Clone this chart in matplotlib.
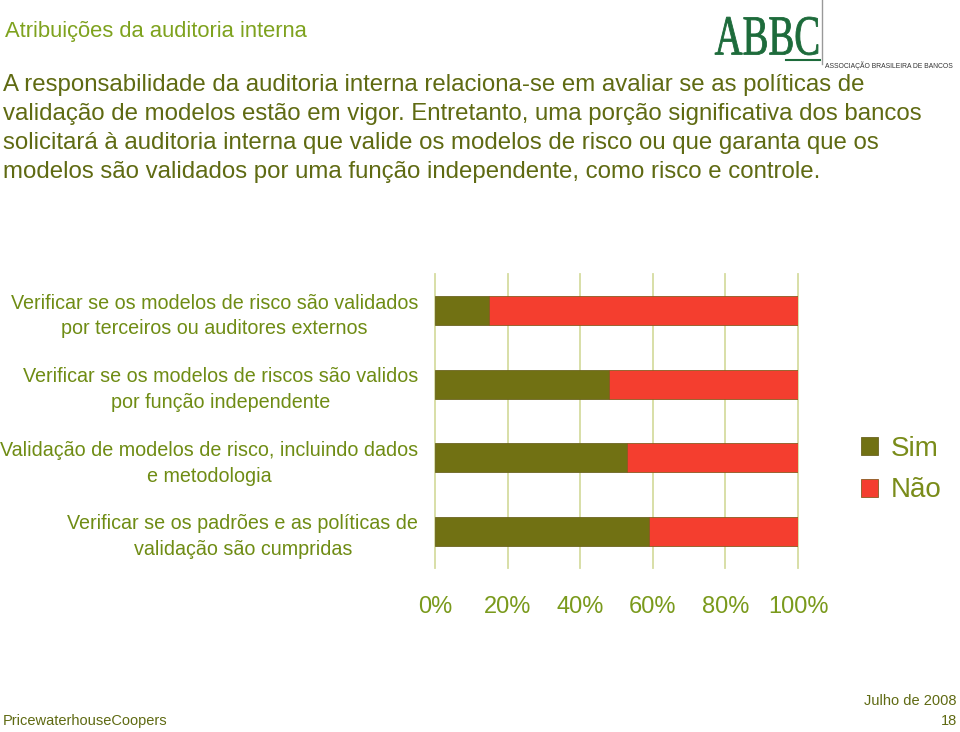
import numpy as np
import matplotlib.pyplot as plt
from matplotlib.textpath import TextPath
from matplotlib.patches import PathPatch
from matplotlib.font_manager import FontProperties
from matplotlib.transforms import Affine2D, IdentityTransform

plt.rcParams['font.family'] = ['Liberation Sans', 'DejaVu Sans']

categorias = [
    "Verificar se os modelos de risco são validados\npor terceiros ou auditores externos",
    "Verificar se os modelos de riscos são validos\npor função independente",
    "Validação de modelos de risco, incluindo dados\ne metodologia",
    "Verificar se os padrões e as políticas de\nvalidação são cumpridas",
]
sim = [15, 48, 53, 59]
nao = [85, 52, 47, 41]
ticks = [0, 20, 40, 60, 80, 100]
tick_labels = ["0%", "20%", "40%", "60%", "80%", "100%"]

cor_sim = "#717113"
cor_nao = "#f43e2f"
verde_titulo = "#7ea21e"
verde_texto = "#5f6a12"
verde_cat = "#6f8c14"

fig = plt.figure(figsize=(9.6, 7.32), dpi=100)

# titulo e texto
fig.text(5/960, 1 - 31/732, "Atribuições da auditoria interna", fontsize=15.8,
         color=verde_titulo, va='center', ha='left')
corpo = ("A responsabilidade da auditoria interna relaciona-se em avaliar se as políticas de\n"
         "validação de modelos estão em vigor. Entretanto, uma porção significativa dos bancos\n"
         "solicitará à auditoria interna que valide os modelos de risco ou que garanta que os\n"
         "modelos são validados por uma função independente, como risco e controle.")
fig.text(3/960, 1 - 74/732, corpo, fontsize=17.3, color=verde_texto, va='top', ha='left',
         linespacing=1.41)

# logo ABBC (texto condensado)
tp = TextPath((0, 0), "ABBC", size=1, prop=FontProperties(family='Liberation Serif'))
ext = tp.get_extents()
sx = 103 / ext.width
sy = 38 / ext.height
tr = Affine2D().translate(-ext.x0, -ext.y0).scale(sx, sy).translate(715, 732 - 55)
fig.add_artist(PathPatch(tr.transform_path(tp), transform=IdentityTransform(),
                         facecolor="#1d6b3b", edgecolor="#1d6b3b", lw=0.6))
fig.add_artist(plt.Line2D([822/960, 822/960], [1.0, 1 - 64/732], color="#999999", lw=1))
fig.add_artist(plt.Line2D([786/960, 820/960], [1 - 60/732, 1 - 60/732], color="#1d6b3b", lw=1.5))
fig.text(825/960, 1 - 66/732, "ASSOCIAÇÃO BRASILEIRA DE BANCOS", fontsize=4.9,
         color="#333333", ha='left', va='center')

# grafico
ax = fig.add_axes([435/960, 164/732, 363/960, 294/732])
y = np.arange(len(categorias))
ax.barh(y, sim, height=0.4, color=cor_sim, edgecolor="#6b6420", lw=0.6, label="Sim", zorder=3)
ax.barh(y, nao, left=sim, height=0.4, color=cor_nao, edgecolor="#8a5a20", lw=0.6, label="Não", zorder=3)
ax.set_xlim(0, 100)
ax.set_ylim(len(categorias) - 0.5, -0.5)
ax.set_yticks(y)
ax.set_yticklabels(categorias, fontsize=14.2, color=verde_cat, multialignment='center',
                   linespacing=1.45)
ax.set_xticks(ticks)
ax.set_xticklabels(tick_labels, fontsize=17, color="#7a9a1c")
ax.tick_params(axis='y', length=0, pad=12)
ax.tick_params(axis='x', length=0, pad=20)
for s in ax.spines.values():
    s.set_visible(False)
ax.xaxis.grid(True, color="#d6dca0", lw=1.3, zorder=0)
ax.set_axisbelow(True)
for g in ax.get_xgridlines():
    g.set_clip_on(False)

ax.legend(loc='upper left', bbox_to_anchor=(861/960, 1 - 436/732), bbox_transform=fig.transFigure,
          frameon=False, fontsize=20, handlelength=0.62, handleheight=0.62, handletextpad=0.45,
          labelspacing=0.55, labelcolor="#7a8c1a", borderpad=0, borderaxespad=0)

# rodape
fig.text(3/960, 1 - 721/732, "PricewaterhouseCoopers", fontsize=10.5, color=verde_texto,
         ha='left', va='center')
fig.text(957/960, 1 - 701/732, "Julho de 2008", fontsize=10.5, color=verde_texto,
         ha='right', va='center')
fig.text(957/960, 1 - 721/732, "18", fontsize=10.5, color=verde_texto, ha='right', va='center')

fig.savefig("out.png", dpi=100)
